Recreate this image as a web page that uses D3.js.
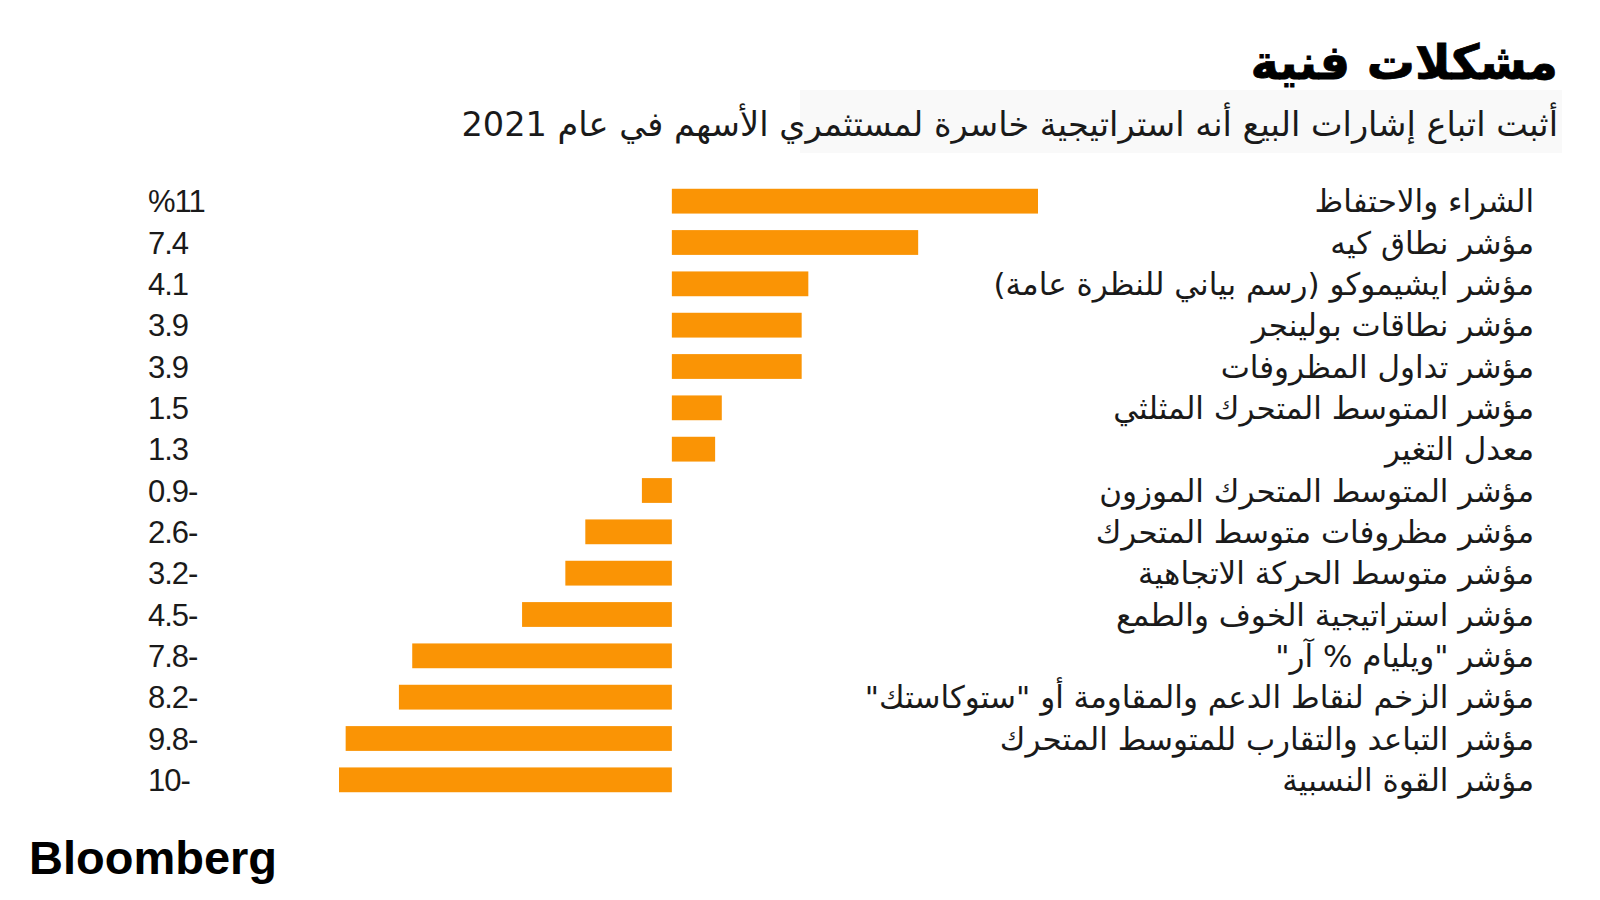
<!DOCTYPE html>
<html>
<head>
<meta charset="utf-8">
<script src="https://cdn.jsdelivr.net/npm/d3@7"></script>
<style>
  html, body { margin: 0; padding: 0; background: #ffffff; }
  svg { display: block; }
</style>
</head>
<body>
<svg id="chart" width="1600" height="900"></svg>
<script>
const categories = [
  "الشراء والاحتفاظ",
  "مؤشر نطاق كيه",
  "مؤشر ايشيموكو (رسم بياني للنظرة عامة)",
  "مؤشر نطاقات بولينجر",
  "مؤشر تداول المظروفات",
  "مؤشر المتوسط المتحرك المثلثي",
  "معدل التغير",
  "مؤشر المتوسط المتحرك الموزون",
  "مؤشر مظروفات متوسط المتحرك",
  "مؤشر متوسط الحركة الاتجاهية",
  "مؤشر استراتيجية الخوف والطمع",
  "مؤشر \"ويليام % آر\"",
  "مؤشر الزخم لنقاط الدعم والمقاومة أو \"ستوكاستك\"",
  "مؤشر التباعد والتقارب للمتوسط المتحرك",
  "مؤشر القوة النسبية"
];
const values = [11, 7.4, 4.1, 3.9, 3.9, 1.5, 1.3, -0.9, -2.6, -3.2, -4.5, -7.8, -8.2, -9.8, -10];
const valueLabels = ["%11", "7.4", "4.1", "3.9", "3.9", "1.5", "1.3", "0.9-", "2.6-", "3.2-", "4.5-", "7.8-", "8.2-", "9.8-", "10-"];
const titleText = "مشكلات فنية";
const subtitleText = "أثبت اتباع إشارات البيع أنه استراتيجية خاسرة لمستثمري الأسهم في عام 2021";
const sourceText = "Bloomberg";

const svg = d3.select("#chart");
const labelFont = "'DejaVu Sans', sans-serif";

const x = d3.scaleLinear().domain([-10, 11]).range([339, 1038]);
const y = d3.scaleBand().domain(d3.range(categories.length))
  .range([180.5, 800.5]).paddingInner(0.4).paddingOuter(0.2);

// faint subtitle background
svg.append("rect").attr("x", 800).attr("y", 90).attr("width", 762).attr("height", 63).attr("fill", "#f9f9f9");

// title
svg.append("text")
  .attr("x", 1558).attr("y", 79)
  .attr("direction", "rtl").attr("text-anchor", "start")
  .style("font-family", labelFont).style("font-weight", "bold").style("font-size", "48px")
  .style("stroke", "#000").style("stroke-width", "0.8px")
  .attr("fill", "#000")
  .text(titleText);

// subtitle
svg.append("text")
  .attr("x", 1558).attr("y", 136)
  .attr("direction", "rtl").attr("text-anchor", "start")
  .style("font-family", labelFont).style("font-size", "33.6px")
  .attr("fill", "#1a1a1a")
  .text(subtitleText);

// bars
svg.append("g").selectAll("rect").data(values).join("rect")
  .attr("x", d => x(Math.min(0, d)))
  .attr("width", d => Math.abs(x(d) - x(0)))
  .attr("y", (d, i) => y(i))
  .attr("height", y.bandwidth())
  .attr("fill", "#fa9405");

// value labels
svg.append("g").selectAll("text").data(valueLabels).join("text")
  .attr("x", 148)
  .attr("y", (d, i) => y(i) + y.bandwidth() / 2 + 11)
  .style("font-family", "'Liberation Sans', Arial, sans-serif")
  .style("font-size", "31px")
  .style("letter-spacing", "-1px")
  .attr("fill", "#1a1a1a")
  .text(d => d);

// category labels
svg.append("g").selectAll("text").data(categories).join("text")
  .attr("x", 1534)
  .attr("y", (d, i) => y(i) + y.bandwidth() / 2 + 11)
  .attr("direction", "rtl").attr("text-anchor", "start")
  .style("font-family", labelFont)
  .style("font-size", "31px")
  .attr("fill", "#1a1a1a")
  .text(d => d);

// source logo
svg.append("text")
  .attr("x", 29).attr("y", 874)
  .style("font-family", "'Liberation Sans', Arial, sans-serif")
  .style("font-weight", "bold").style("font-size", "47px")
  .style("letter-spacing", "0px")
  .attr("fill", "#000")
  .text(sourceText);
</script>
</body>
</html>
